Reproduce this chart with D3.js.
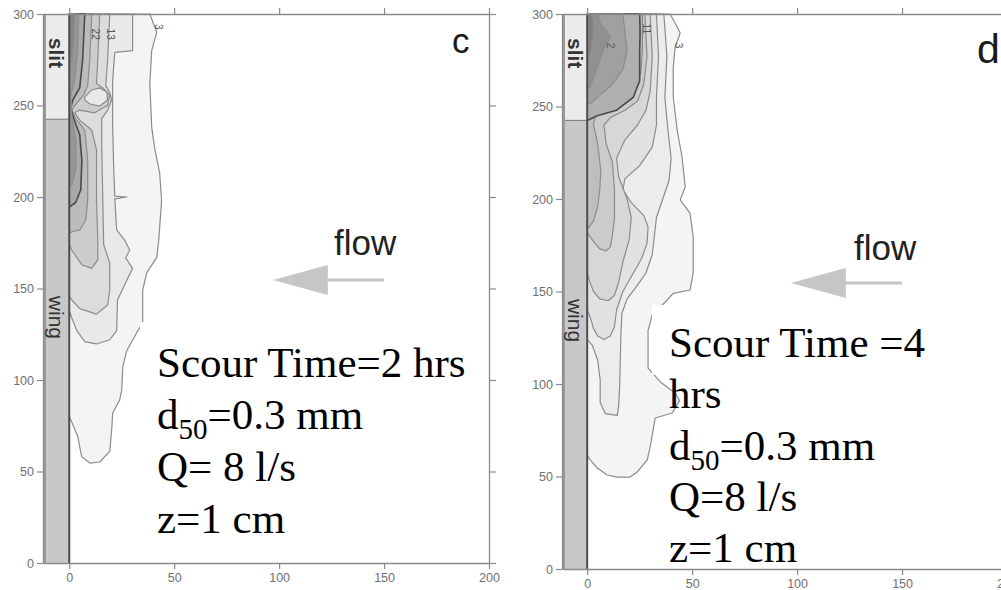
<!DOCTYPE html>
<html>
<head>
<meta charset="utf-8">
<script src="https://cdn.jsdelivr.net/npm/d3@7"></script>
<style>
  body { margin: 0; background: #fff; }
  svg { display: block; }
</style>
</head>
<body>
<svg id="chart" width="1001" height="590"></svg>
<script>
// axis ticks (cm)
var xTicks = [0, 50, 100, 150, 200];
var yTicks = [0, 50, 100, 150, 200, 250, 300];
var slitBottom = 242.5;

// scour contours, panel c (2 hrs) : right edge of each level, from top (y=300) down to the wall (x=0)
var contoursC = [
  [[38.4,300],[41.7,290],[39.3,280],[38.4,262],[39.3,238],[40.8,226],[43.1,213],[44,198],[42.7,177],[41.7,167],[36.9,158.5],[35,149],[35,131],[32.2,126],[27.4,116],[25.5,107],[25,94.5],[24,89],[20.7,82],[20.3,74],[19.3,61],[14.5,55.2],[9.8,54.6],[6,58],[5,63.4],[4.1,69],[1.2,77],[0,80]],
  [[30.2,300],[30.2,280],[21.7,279],[20.7,264],[20.7,237],[21.2,215],[21.7,200.5],[27.4,200],[21.7,199],[22.6,182],[26.4,176.5],[28.8,171],[26.9,166.7],[30.2,161],[26.4,152],[23,143.7],[22.6,127],[19.3,122],[13,119.7],[7.4,121],[3.6,127],[1.2,134],[0,138]],
  [[19.3,300],[18.3,275],[17.4,261],[19.3,257],[20.2,253],[18.3,247.5],[15.5,243],[15.5,226],[16,198],[16.4,174],[19.3,164],[19.3,149],[18.3,141],[13,136],[5,139],[1.2,143.7],[0,146]],
  [[14.5,300],[13.6,275],[13,262],[16,259.6],[19.3,255.7],[18.3,250],[12,246],[5,247.5],[2.6,246],[5,242],[10.7,236.6],[13,225.7],[13,198],[13.6,176.5],[13.6,165.6],[10.7,161],[6,163],[1.2,171],[0,174]],
  [[10.7,300],[9.8,275],[8.8,261],[6.9,255.7],[2.6,250],[1.2,247.5],[3,243],[7.4,236.6],[8.8,220],[8.8,198],[7.9,187.4],[5,182],[1.2,181],[0,180]],
  [[7.4,300],[6.4,275],[5,259.6],[1.7,253],[0.7,248.6],[2.1,243],[5,234],[6,220],[5.5,204],[3.1,197],[0,194.5]],
  [[4.5,300],[4,280],[2.6,264],[0.7,256],[1.2,245],[3.1,231],[3.1,215],[1.2,206.6],[0,205]],
  [[2.6,300],[2.1,286],[1.2,275],[0,269]]
];
var blobC = [[7.4,254.6],[10.7,258.5],[14.5,259.6],[17.9,257.4],[18.3,253],[14.5,249.7],[9.8,250.8],[7.4,253]];

// scour contours, panel d (4 hrs)
var contoursD = [
  [[39.5,300],[42.9,293],[44.3,289.7],[41.9,282],[41,271],[41,255],[42.9,237],[45.2,222.7],[46.7,206.5],[44.3,199.5],[49,192.4],[50.5,179.5],[50.5,160],[49,150.8],[41,149],[38.1,145.4],[31,137.3],[29,129],[29,108.6],[35,101],[42,95],[44,91],[40.5,84.3],[32.4,81.6],[30,66],[28.6,59],[23.8,52.4],[20.5,49.7],[14.3,49.7],[9.5,50.8],[4.8,54.6],[1.4,59],[0,61.6]],
  [[36.5,300],[38,277],[37,255],[38.5,237],[40,222],[39,210],[36,200],[33,190],[32,180],[31,170],[28,160],[23,152],[19,146],[16.5,138],[16,124],[15.5,100],[15,88],[14.3,83],[8.6,84],[6.2,90],[6.2,102],[5,113],[2.4,121],[0,124]],
  [[33,300],[34,277],[33,255],[33,240],[31,228],[25,218],[18,211],[17,205],[21,198],[27,191],[29,185],[28.5,176],[26,168],[22,160],[17,150],[14,140],[13,131],[11,126],[8,124],[5,126],[3,130],[1.5,136],[0,140]],
  [[30,300],[31,277],[30,258],[28,248],[24,240],[18,232],[14,222],[15,212],[19,200],[21,190],[20,178],[17,166],[15,155],[13,148],[10,145],[6,146],[3,150],[1,156],[0,160]],
  [[27.5,300],[28.5,277],[27,262],[24,253],[18,248],[11,244],[8,240],[9,230],[12,220],[13,205],[13,190],[12,180],[11,174],[9,172],[6,173],[3,177],[0,182]],
  [[26.3,300],[26.3,280],[25.5,268],[21,258],[14,252],[7,249],[4,246],[3,240],[5,230],[6.5,215],[6,205],[5,196],[3,188],[1,185],[0,184]],
  [[25,300],[25.2,290],[25,280],[25,264],[22,255],[14,248],[4.8,245],[0.5,242.7],[0,242.5]],
  [[17,300],[18,290],[19,280],[17,270],[12,262],[6,256],[2,252],[0,251]],
  [[5,300],[6.2,295],[11,287.6],[7.6,280.5],[4.8,271],[1.4,260.5],[0,259]],
  [[2.5,300],[3,290],[2,280],[0,276]]
];

var fillC = ["#f4f4f4","#e9e9e9","#dcdcdc","#cdcdcd","#bcbcbc","#a9a9a9","#969696","#848484"];
var fillD = ["#f4f4f4","#ececec","#e2e2e2","#d7d7d7","#cbcbcb","#bebebe","#b0b0b0","#a0a0a0","#909090","#828282"];

// contour labels [x, y, text]
var labelsC = [[11, 289, "22"], [18, 289, "13"], [41, 293, "3"]];
var labelsD = [[9.5, 283, "2"], [26.5, 292, "11"], [42, 283, "3"]];

var infoC = ["Scour Time=2 hrs", "D50", "Q= 8 l/s", "z=1 cm"];
var infoD = ["Scour Time =4", "hrs", "D50", "Q=8 l/s", "z=1 cm"];

var panels = [
  { tag: "c", range: [43, 489], yr: [563, 14], xd: [-12.5, 200], levels: contoursC, fills: fillC, blob: blobC,
    dark: 5, labels: labelsC, info: infoC, infoX: 157, infoY: 377, infoStep: 52,
    box: [140, 322, 340, 66], tagPos: [452, 53], tagSize: 35, flowText: [334, 255] },
  { tag: "d", range: [562, 1007], yr: [569, 14], xd: [-12, 200], levels: contoursD, fills: fillD, blob: null,
    dark: 6, labels: labelsD, info: infoD, infoX: 669, infoY: 357, infoStep: 51.3,
    box: [652, 305, 285, 70], tagPos: [977, 63], tagSize: 41, flowText: [854, 260] }
];

var svg = d3.select("#chart");
svg.append("rect").attr("width", 1001).attr("height", 590).attr("fill", "#fff");

panels.forEach(function(p) {
  var x = d3.scaleLinear().domain(p.xd).range(p.range);
  var y = d3.scaleLinear().domain([0, 300]).range(p.yr);
  var g = svg.append("g");

  var line = d3.line().x(function(d) { return x(d[0]); }).y(function(d) { return y(d[1]); });

  // contour levels, outer first
  p.levels.forEach(function(lv, i) {
    var pts = lv.concat([[0, 300]]);
    g.append("path")
      .attr("d", line(pts) + "Z")
      .attr("fill", p.fills[i])
      .attr("stroke", i == p.dark ? "#4a4a4a" : "#8c8c8c")
      .attr("stroke-width", i == p.dark ? 1.6 : 1.2)
      .attr("stroke-linejoin", "round");
  });
  if (p.blob) {
    g.append("path").attr("d", line(p.blob) + "Z")
      .attr("fill", p.fills[1]).attr("stroke", "#8c8c8c").attr("stroke-width", 1.2);
  }
  p.labels.forEach(function(l) {
    g.append("text")
      .attr("transform", "translate(" + x(l[0]) + "," + y(l[1]) + ") rotate(90)")
      .attr("text-anchor", "middle")
      .attr("font-family", "Liberation Sans, Arial, sans-serif")
      .attr("font-size", 10).attr("fill", "#555")
      .text(l[2]);
  });

  // white box behind the first text line
  g.append("rect").attr("x", p.box[0]).attr("y", p.box[1])
    .attr("width", p.box[2]).attr("height", p.box[3]).attr("fill", "#fff");

  // wing and slit
  g.append("rect").attr("x", x(p.xd[0])).attr("y", y(slitBottom))
    .attr("width", x(0) - x(p.xd[0])).attr("height", y(0) - y(slitBottom))
    .attr("fill", "#c8c8c8");
  g.append("rect").attr("x", x(p.xd[0])).attr("y", y(300))
    .attr("width", x(0) - x(p.xd[0])).attr("height", y(slitBottom) - y(300))
    .attr("fill", "#ebebeb");
  g.append("line").attr("x1", x(p.xd[0])).attr("x2", x(0))
    .attr("y1", y(slitBottom)).attr("y2", y(slitBottom))
    .attr("stroke", "#777").attr("stroke-width", 1);
  g.append("line").attr("x1", x(p.xd[0]) + 1.5).attr("x2", x(p.xd[0]) + 1.5)
    .attr("y1", y(0)).attr("y2", y(300))
    .attr("stroke", "#9a9a9a").attr("stroke-width", 3);
  g.append("line").attr("x1", x(0)).attr("x2", x(0))
    .attr("y1", y(0)).attr("y2", y(300))
    .attr("stroke", "#4d4d4d").attr("stroke-width", 2);

  var mid = (x(p.xd[0]) + x(0)) / 2;
  g.append("text")
    .attr("transform", "translate(" + (mid - 7) + "," + y(287) + ") rotate(90)")
    .attr("font-family", "Liberation Sans, Arial, sans-serif")
    .attr("font-size", 21).attr("font-weight", "bold").attr("fill", "#333")
    .text("slit");
  g.append("text")
    .attr("transform", "translate(" + (mid - 7) + "," + y(146) + ") rotate(90)")
    .attr("font-family", "Liberation Sans, Arial, sans-serif")
    .attr("font-size", 21).attr("fill", "#333")
    .text("wing");

  // axes on all four sides
  function style(a) {
    a.selectAll("path").attr("stroke", "#8a8a8a").attr("stroke-width", 1.3);
    a.selectAll("line").attr("stroke", "#8a8a8a").attr("stroke-width", 1.2);
    a.selectAll("text").attr("fill", "#707070")
      .attr("font-family", "Liberation Sans, Arial, sans-serif").attr("font-size", 12.5);
  }
  g.append("g").attr("transform", "translate(0," + y(0) + ")")
    .call(d3.axisBottom(x).tickValues(xTicks).tickSize(6).tickSizeOuter(0).tickPadding(4))
    .call(style);
  g.append("g").attr("transform", "translate(0," + y(300) + ")")
    .call(d3.axisTop(x).tickValues(xTicks).tickSize(6).tickSizeOuter(0).tickFormat(""))
    .call(style);
  g.append("g").attr("transform", "translate(" + x(p.xd[0]) + ",0)")
    .call(d3.axisLeft(y).tickValues(yTicks).tickSize(6).tickSizeOuter(0).tickPadding(3))
    .call(style);
  g.append("g").attr("transform", "translate(" + x(200) + ",0)")
    .call(d3.axisRight(y).tickValues(yTicks).tickSize(7).tickSizeOuter(0).tickFormat(""))
    .call(style);

  // panel tag
  g.append("text").attr("x", p.tagPos[0]).attr("y", p.tagPos[1])
    .attr("font-family", "Liberation Sans, Arial, sans-serif")
    .attr("font-size", p.tagSize).attr("fill", "#1a1a1a")
    .text(p.tag);

  // flow arrow
  var tipX = x(97), tipY = y(154.6);
  g.append("line").attr("x1", tipX + 50).attr("x2", x(150))
    .attr("y1", tipY).attr("y2", tipY)
    .attr("stroke", "#c6c6c6").attr("stroke-width", 3);
  g.append("path")
    .attr("d", "M" + tipX + "," + tipY + "L" + (tipX + 55) + "," + (tipY - 15) +
               "L" + (tipX + 55) + "," + (tipY + 15) + "Z")
    .attr("fill", "#c6c6c6");
  g.append("text").attr("x", p.flowText[0]).attr("y", p.flowText[1])
    .attr("font-family", "Liberation Sans, Arial, sans-serif")
    .attr("font-size", 35).attr("fill", "#222")
    .text("flow");

  // test conditions
  p.info.forEach(function(s, i) {
    var t = g.append("text").attr("x", p.infoX).attr("y", p.infoY + i * p.infoStep)
      .attr("font-family", "Liberation Serif, Times New Roman, serif")
      .attr("font-size", 43).attr("fill", "#000");
    if (s == "D50") {
      t.append("tspan").text("d");
      t.append("tspan").attr("font-size", 29).attr("dy", 10).text("50");
      t.append("tspan").attr("dy", -10).text("=0.3 mm");
    } else {
      t.text(s);
    }
  });
});
</script>
</body>
</html>
